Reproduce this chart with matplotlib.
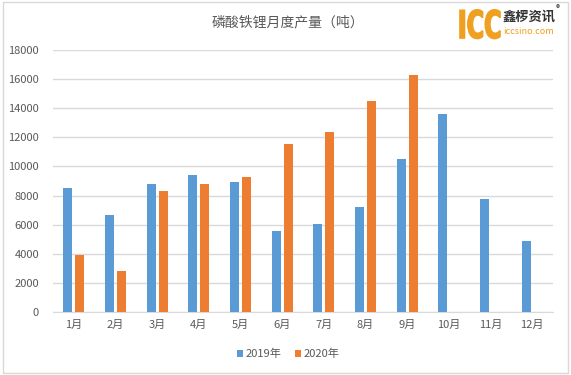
import numpy as np
import matplotlib.pyplot as plt
from matplotlib.patches import Rectangle, PathPatch
from matplotlib.textpath import TextPath
from matplotlib.font_manager import FontProperties
from matplotlib.transforms import Affine2D, IdentityTransform

plt.rcParams['font.family'] = ['Noto Sans CJK SC', 'DejaVu Sans']

months = ['1月', '2月', '3月', '4月', '5月', '6月', '7月', '8月', '9月', '10月', '11月', '12月']
y2019 = [8550, 6640, 8780, 9400, 8920, 5540, 6020, 7190, 10500, 13600, 7750, 4850]
y2020 = [3950, 2850, 8300, 8780, 9260, 11540, 12370, 14500, 16300, 0, 0, 0]
yticks = [0, 2000, 4000, 6000, 8000, 10000, 12000, 14000, 16000, 18000]

blue = '#5B9BD5'
orange = '#ED7D31'
txt = '#595959'

fig = plt.figure(figsize=(5.71, 3.75), dpi=100)
fig.patches.append(Rectangle((0.005, 0.005), 0.99, 0.99, transform=fig.transFigure,
                             fill=False, edgecolor='#D9D9D9', linewidth=1))

ax = fig.add_axes([53 / 571, 1 - 312 / 375, 500 / 571, 262 / 375])
x = np.arange(len(months))
w = 0.22
ax.bar(x - 0.145, y2019, w, color=blue, label='2019年', zorder=3)
ax.bar(x + 0.145, y2020, w, color=orange, label='2020年', zorder=3)

ax.set_xlim(-0.5, 11.5)
ax.set_ylim(0, 18000)
ax.set_yticks(yticks)
ax.set_xticks(x)
ax.set_xticklabels(months)
ax.grid(axis='y', color='#D9D9D9', linewidth=1, zorder=0)
for s in ['top', 'right', 'left']:
    ax.spines[s].set_visible(False)
ax.spines['bottom'].set_color('#D9D9D9')
ax.tick_params(length=0, colors=txt, labelsize=8)
ax.tick_params(axis='y', pad=10)
ax.tick_params(axis='x', pad=6)

fig.text(0.505, 1 - 22 / 375, '磷酸铁锂月度产量（吨）', ha='center', va='center',
         fontsize=10, color=txt)

ax.legend(loc='center', bbox_to_anchor=(0.47, -0.16), ncol=2, frameon=False,
          fontsize=8, labelcolor=txt, handlelength=0.6, handleheight=0.6,
          handletextpad=0.2, columnspacing=1.2)

# logo: condensed "ICC" drawn as a squeezed text path
tp = TextPath((0, 0), 'ICC', size=38, prop=FontProperties(family='DejaVu Sans', weight='bold'))
ext = tp.get_extents()
sx = 40 / ext.width
tr = Affine2D().translate(-ext.x0, 0).scale(sx, 1.0).translate(460, 375 - 38)
fig.patches.append(PathPatch(tp, transform=tr + IdentityTransform(),
                             facecolor='#F0A020', edgecolor='#F0A020', linewidth=1.2))
fig.text(503 / 571, 1 - 17 / 375, '鑫椤资讯', ha='left', va='center', fontsize=9.5,
         fontweight='bold', color='#333333')
fig.text(503 / 571, 1 - 32 / 375, 'iccsino.com', ha='left', va='center', fontsize=6.5,
         color='#F0A020')
fig.text(556 / 571, 1 - 9 / 375, '®', ha='left', va='center', fontsize=6, color='#333333')

fig.savefig('out.png', dpi=100)
